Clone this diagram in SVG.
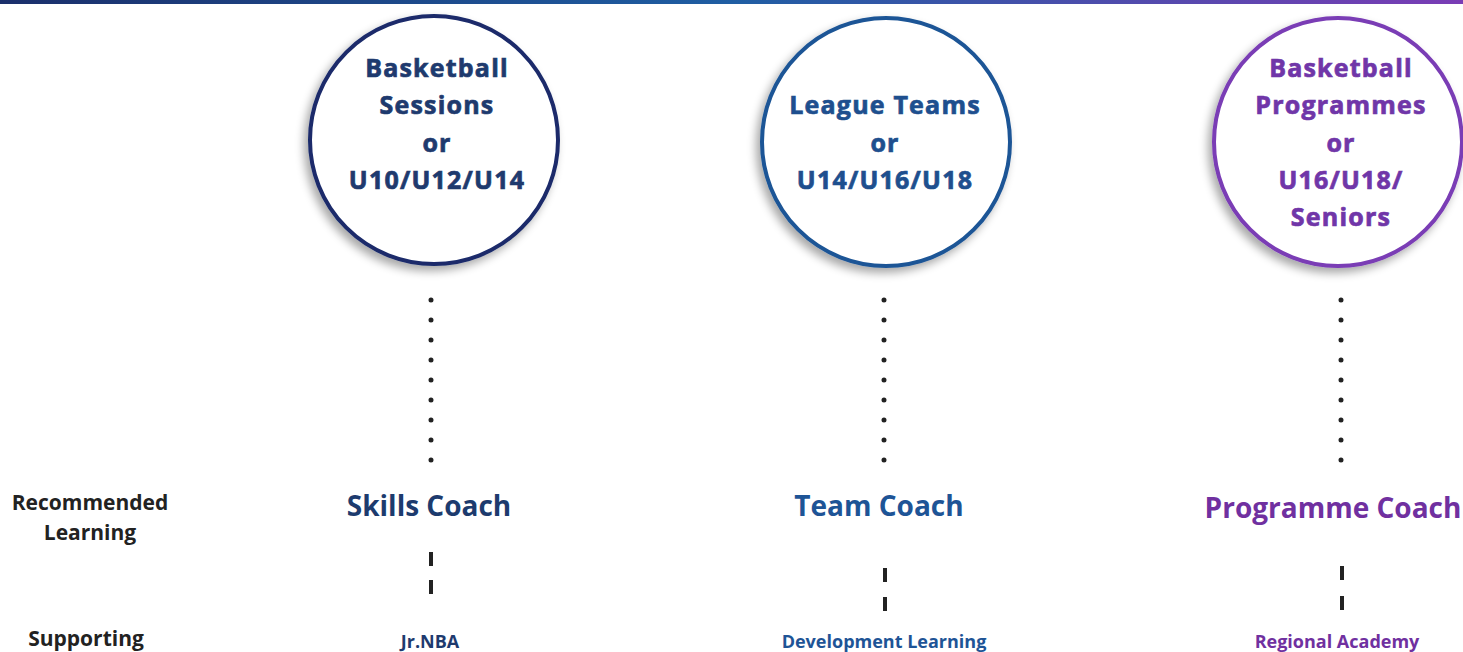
<svg xmlns="http://www.w3.org/2000/svg" width="1463" height="652" viewBox="0 0 1463 652">
<defs>
<linearGradient id="bar" x1="0" y1="0" x2="1" y2="0">
<stop offset="0" stop-color="#1b2f6b"/>
<stop offset="0.5" stop-color="#1f5ea3"/>
<stop offset="1" stop-color="#7a3cb5"/>
</linearGradient>
<filter id="sh" x="-20%" y="-20%" width="140%" height="140%">
<feGaussianBlur in="SourceAlpha" stdDeviation="5"/>
<feOffset dx="-4" dy="5"/>
<feComponentTransfer><feFuncA type="linear" slope="0.35"/></feComponentTransfer>
<feMerge><feMergeNode/><feMergeNode in="SourceGraphic"/></feMerge>
</filter>
</defs>
<style>
text{font-family:"Open Sans","Noto Sans","Liberation Sans",sans-serif;font-weight:bold;text-anchor:middle}
.c{font-size:25px;letter-spacing:1.2px;stroke-width:0.7px;paint-order:stroke}
.h{font-size:28px}
.s{font-size:18px}
.l{font-size:21px;fill:#222}
.dot{stroke:#222;stroke-width:5;stroke-linecap:round;stroke-dasharray:0 20;fill:none}
.dash{stroke:#222;stroke-width:4;fill:none}
</style>
<rect width="1463" height="652" fill="#ffffff"/>
<rect x="0" y="0" width="1463" height="4" fill="url(#bar)"/>
<g id="label-recommended"><text class="l" x="90" y="510">Recommended</text><text class="l" x="90" y="540">Learning</text></g>
<g id="label-supporting"><text class="l" x="86" y="646">Supporting</text></g>
<g id="node1">
<circle cx="434" cy="140" r="124" fill="#fff" stroke="#1a2b6b" stroke-width="4" filter="url(#sh)"/>
<g fill="#1e3a6e" stroke="#1e3a6e"><text class="c" x="437" y="77">Basketball</text><text class="c" x="437" y="114">Sessions</text><text class="c" x="437" y="152">or</text><text class="c" x="437" y="189">U10/U12/U14</text></g>
</g>
<g id="node2">
<circle cx="886" cy="142" r="124" fill="#fff" stroke="#1c5596" stroke-width="4" filter="url(#sh)"/>
<g fill="#1e4f8e" stroke="#1e4f8e"><text class="c" x="885" y="114">League Teams</text><text class="c" x="885" y="152">or</text><text class="c" x="885" y="189">U14/U16/U18</text></g>
</g>
<g id="node3">
<circle cx="1338" cy="142" r="124" fill="#fff" stroke="#7a3cb5" stroke-width="4" filter="url(#sh)"/>
<g fill="#7036a8" stroke="#7036a8"><text class="c" x="1341" y="77">Basketball</text><text class="c" x="1341" y="114">Programmes</text><text class="c" x="1341" y="152">or</text><text class="c" x="1341" y="189">U16/U18/</text><text class="c" x="1341" y="226">Seniors</text></g>
</g>
<g id="node4"><text class="h" x="429" y="516" fill="#1d3b6e">Skills Coach</text></g>
<g id="node5"><text class="h" x="879" y="516" fill="#1e5496">Team Coach</text></g>
<g id="node6"><text class="h" x="1333" y="518" fill="#7030a0">Programme Coach</text></g>
<g id="node7"><text class="s" x="430" y="648" fill="#1e3a6e">Jr.NBA</text></g>
<g id="node8"><text class="s" x="884" y="648" fill="#1e5496">Development Learning</text></g>
<g id="node9"><text class="s" x="1337" y="648" fill="#7030a0">Regional Academy</text></g>
<g id="connectors">
<path class="dot" d="M431 300V461"/>
<path class="dot" d="M884 300V461"/>
<path class="dot" d="M1341 300V461"/>
<path class="dash" d="M431 552v14M431 580v14"/>
<path class="dash" d="M885 568v14M885 597v14"/>
<path class="dash" d="M1342 566v14M1342 596v14"/>
</g>
</svg>
